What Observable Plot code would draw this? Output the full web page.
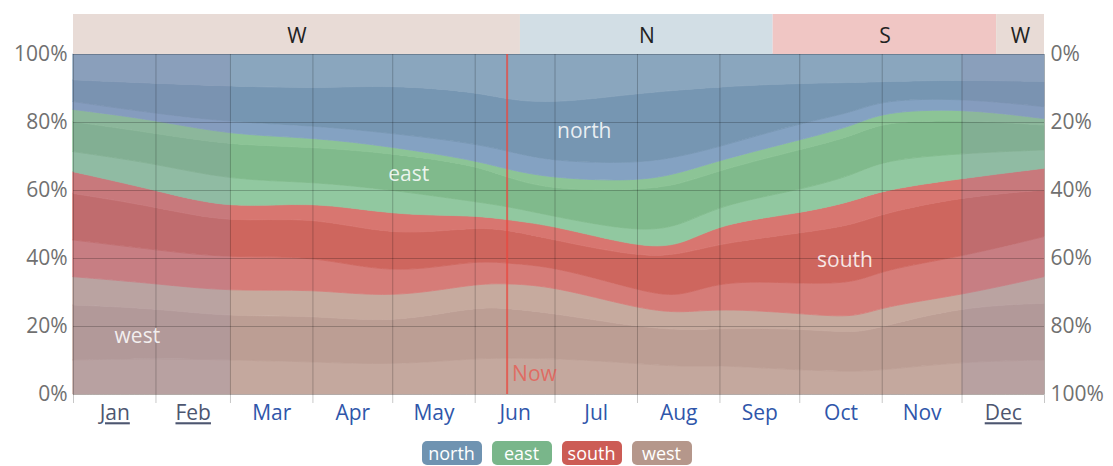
<!DOCTYPE html>
<html><head><meta charset="utf-8">
<script src="https://cdn.jsdelivr.net/npm/d3@7"></script>
<script src="https://cdn.jsdelivr.net/npm/@observablehq/plot@0.6"></script>
<style>
body{margin:0;background:#fff;font-family:"Open Sans",sans-serif;}
#legend{display:flex;justify-content:center;gap:10px;margin-top:1px;}
#legend span{color:#fff;font-size:18px;line-height:24px;width:60px;text-align:center;border-radius:5px;}
</style></head><body><div id="chart"></div><div id="legend"></div>
<script>
// sample dates
const dates = ["2023-01-01","2023-02-01","2023-03-01","2023-04-01","2023-05-01","2023-06-01","2023-06-14","2023-07-01","2023-08-01","2023-08-17","2023-09-01","2023-10-01","2023-10-22","2023-11-01","2023-12-01","2024-01-01"];
// percentage of hours per layer (bottom to top)
const nwWest  = [10, 10.5, 10, 9.5, 8.5, 10.5, 10.5, 10.5, 9, 8, 8.5, 7, 6.6, 7, 9.5, 10];
const west    = [16.2, 14.7, 12.7, 13.7, 12.3, 15.2, 14.7, 13.2, 10.8, 10.8, 10.8, 12.3, 11.2, 12.8, 16.2, 16.7];
const swWest  = [8.3, 7.3, 7.4, 7.8, 7.3, 6.8, 7.3, 7.9, 5.4, 4.9, 5.9, 4.4, 4.5, 5.9, 3.4, 7.8];
const swSouth = [10.8, 9.9, 9.8, 9.9, 6.9, 6.9, 5.9, 5.9, 5.4, 4.4, 8.3, 8.8, 10.2, 10.8, 11.3, 11.8];
const south   = [13.7, 12.7, 10.3, 11.5, 11.3, 9.8, 9.8, 7.8, 9.8, 12.8, 10.8, 14.8, 17.3, 16.6, 17.6, 13.7];
const seSouth = [6.4, 4.9, 4.1, 4.4, 6.3, 3.4, 3, 4.2, 2.9, 2.4, 5.9, 5.8, 7, 6.9, 5.4, 6.4];
const seEast  = [5.9, 7.8, 8.6, 5.7, 7.4, 4, 3.9, 2.7, 4.4, 5.9, 5.4, 6.9, 7.7, 8.8, 7.4, 5.4];
const east    = [8.8, 8.9, 10.3, 10.2, 10.8, 10.8, 8.3, 7.8, 12.3, 12.3, 10.3, 11.8, 11.5, 11.3, 9.8, 7.3];
const neEast  = [3.6, 3.9, 3, 2.8, 1.9, 1.4, 2.5, 3.4, 2.5, 3.4, 2.9, 2.9, 3, 2.9, 3.4, 1.9];
const neNorth = [2.3, 1.9, 3.8, 3.5, 4, 4.9, 5.4, 4.9, 5.3, 4.9, 3.9, 4.9, 4, 3.5, 3, 3.5];
const north   = [6.4, 8.9, 10.6, 10.9, 14.2, 15.2, 15.2, 17.2, 20.6, 19.6, 17.7, 11.8, 8.6, 5.4, 5.4, 7.4];
const nwNorth = [7.6, 8.6, 9.4, 10.1, 9.1, 11.1, 13.5, 14.5, 11.6, 10.6, 9.6, 8.6, 8.4, 8.1, 7.6, 8.1];

const layerNames = ["nwWest","west","swWest","swSouth","south","seSouth","seEast","east","neEast","neNorth","north","nwNorth"];
const layerValues = [nwWest, west, swWest, swSouth, south, seSouth, seEast, east, neEast, neNorth, north, nwNorth];
const layerColors = ["#c4a89e","#bc9e94","#c6aa9e","#d67c78","#ce665e","#d87670","#91c8a0","#80ba8c","#8cc496","#84a2c2","#7696b2","#8aa6be"];

// dominant direction band
const bandStarts = ["2023-01-01","2023-06-18","2023-09-21","2023-12-14"];
const bandEnds   = ["2023-06-18","2023-09-21","2023-12-14","2024-01-01"];
const bandLabels = ["W","N","S","W"];
const bandColors = ["#e8dbd6","#d2dee5","#f0c6c4","#e8dbd6"];

const monthNames = ["Jan","Feb","Mar","Apr","May","Jun","Jul","Aug","Sep","Oct","Nov","Dec"];
const monthLinks = ["Jan","Feb","Dec"];
const yTicks = [0,20,40,60,80,100];
const nowDate = "2023-06-13";
const dimSpans = [["2023-01-01","2023-03-01"],["2023-12-01","2024-01-01"]];

const labelTexts = ["north","east","south","west"];
const labelDates = ["2023-07-12","2023-05-07","2023-10-18","2023-01-25"];
const labelPcts  = [77.4, 64.7, 39.4, 17];

const legendNames = ["north","east","south","west"];
const legendColors = ["#6f93b1","#79b68a","#cc5c55","#b5978b"];

const D = s => new Date(s + "T00:00:00Z");
const rows = [];
layerNames.forEach((name, i) => dates.forEach((d, j) => rows.push({date: D(d), value: layerValues[i][j], layer: name})));
const bands = bandStarts.map((s, i) => ({start: D(s), end: D(bandEnds[i]), mid: new Date((D(s).getTime() + D(bandEnds[i]).getTime())/2), label: bandLabels[i]}));
const monthStarts = d3.range(13).map(m => new Date(Date.UTC(2023, m, 1)));
const months = monthNames.map((n, m) => ({name: n, mid: new Date((Date.UTC(2023, m, 1) + Date.UTC(2023, m + 1, 1))/2)}));
const labels = labelTexts.map((t, i) => ({text: t, date: D(labelDates[i]), y: labelPcts[i]}));

const FS = 21;
const chart = Plot.plot({
  width: 1113, height: 440,
  marginTop: 54, marginBottom: 46, marginLeft: 73, marginRight: 69,
  style: {fontFamily: "'Open Sans', sans-serif", fontSize: FS + "px", background: "#fff"},
  x: {type: "utc", domain: [D("2023-01-01"), D("2024-01-01")], axis: null},
  y: {domain: [0, 100], axis: null},
  color: {domain: layerNames, range: layerColors},
  marks: [
    Plot.areaY(rows, {x: "date", y: "value", z: "layer", fill: "layer", stroke: "layer", strokeWidth: 0.8, curve: "basis"}),
    ...dimSpans.map(s => Plot.rect([s], {x1: d => D(d[0]), x2: d => D(d[1]), fill: "#8a88b0", fillOpacity: 0.2})),
    ...bands.map((b, i) => Plot.rect([b], {x1: "start", x2: "end", fill: bandColors[i], insetTop: -40, insetBottom: 340})),
    Plot.text(bands, {x: "mid", text: "label", frameAnchor: "top", lineAnchor: "middle", dy: -18, fill: "#222", fontSize: FS}),
    Plot.ruleY(yTicks, {stroke: "#000", strokeOpacity: 0.22}),
    Plot.ruleX(monthStarts, {stroke: "#000", strokeOpacity: 0.22, insetBottom: -9}),
    Plot.ruleX([D(nowDate)], {stroke: "#e8483f", strokeWidth: 2, strokeOpacity: 0.75}),
    Plot.text([D(nowDate)], {x: d => d, text: () => "Now", frameAnchor: "bottom", lineAnchor: "middle", dy: -20, dx: 5, textAnchor: "start", fill: "#e8574f", fillOpacity: 0.75, fontSize: FS}),
    Plot.text(labels, {x: "date", y: "y", text: "text", fill: "#fff", fillOpacity: 0.85, fontSize: FS}),
    Plot.axisY({anchor: "left", ticks: yTicks, tickFormat: d => d + "%", tickSize: 0, tickPadding: 6, fontSize: FS, fill: "#707070"}),
    Plot.axisY({anchor: "right", ticks: yTicks, tickFormat: d => (100 - d) + "%", tickSize: 0, tickPadding: 6, fontSize: FS, fill: "#707070"}),
    Plot.text(months.filter(m => !monthLinks.includes(m.name)), {x: "mid", text: "name", frameAnchor: "bottom", lineAnchor: "middle", dy: 19, fill: "#2f56aa", fontSize: FS}),
    Plot.text(months.filter(m => monthLinks.includes(m.name)), {x: "mid", text: "name", frameAnchor: "bottom", lineAnchor: "middle", dy: 19, fill: "#4d5670", fontSize: FS})
  ]
});
d3.select(chart).selectAll("text")
  .filter(function () { return monthLinks.includes(this.textContent); })
  .attr("text-decoration", "underline")
  .style("text-decoration", "underline");
document.getElementById("chart").appendChild(chart);
const legend = document.getElementById("legend");
legendNames.forEach((n, i) => {
  const s = document.createElement("span");
  s.textContent = n; s.style.background = legendColors[i];
  legend.appendChild(s);
});
</script></body></html>
